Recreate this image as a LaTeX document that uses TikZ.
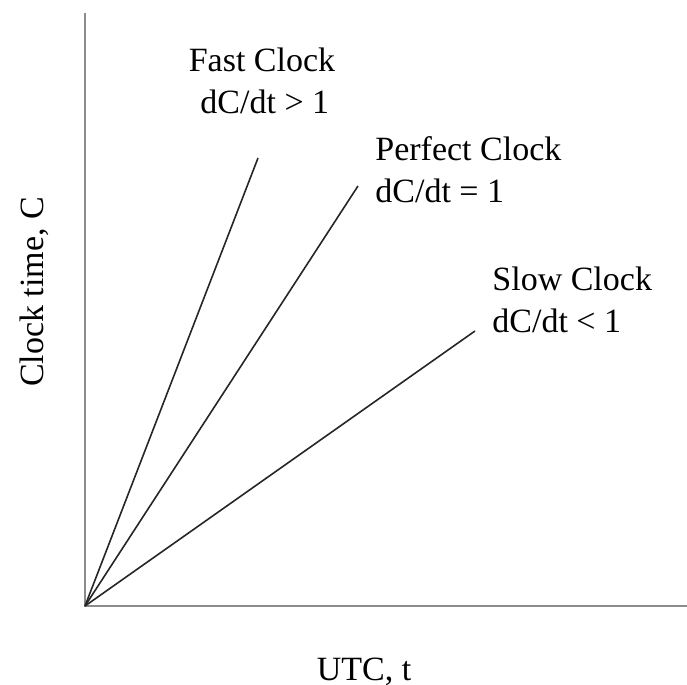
\documentclass[tikz,border=0pt]{standalone}
\usepackage{fontspec}
\setmainfont{Liberation Serif}
\usetikzlibrary{positioning}
\tikzset{
  axis/.style={line width=1pt,black!45},
  ray/.style={line width=0.8pt,black!85},
  lbl/.style={inner sep=0pt,font=\fontsize{17}{21}\selectfont}
}

\begin{document}
\begin{tikzpicture}[x=0.5pt,y=-0.5pt]
  \useasboundingbox (0,0) rectangle (687,685);
  % axes
  \coordinate (O) at (85,606);
  \coordinate (ytop) at (85,13);
  \coordinate (xend) at (687,606);
  \draw[axis] (ytop) -- (O) -- (xend);
  % clock lines
  \coordinate (fastEnd) at (258,158);
  \coordinate (perfEnd) at (358,186);
  \coordinate (slowEnd) at (475,331);
  \draw[ray] (O) -- (fastEnd);
  \draw[ray] (O) -- (perfEnd);
  \draw[ray] (O) -- (slowEnd);
  % labels (base = last line)
  \node[lbl,align=center,anchor=base] (fast) at (262,113) {Fast Clock\\ \,dC/dt > 1};
  \node[lbl,align=left,anchor=base west] (perf) at (375,202) {Perfect Clock\\dC/dt = 1};
  \node[lbl,align=left,anchor=base west] (slow) at (492,332) {Slow Clock\\dC/dt < 1};
  \node[lbl,rotate=90,anchor=base] (ylab) at (43,292) {Clock time, C};
  \node[lbl,anchor=base] (xlab) at (364,680) {UTC, t};
\end{tikzpicture}
\end{document}
